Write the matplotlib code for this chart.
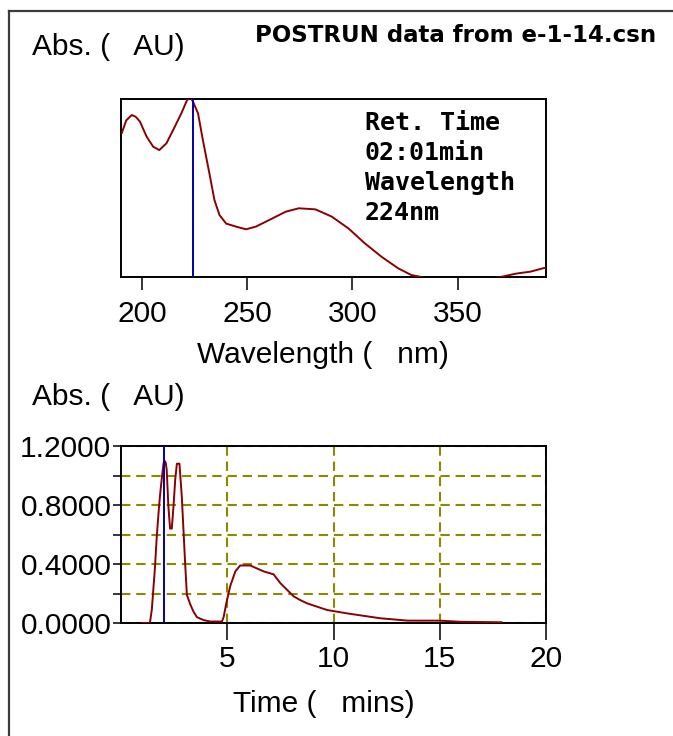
import matplotlib
matplotlib.use("Agg")
import matplotlib.pyplot as plt
from matplotlib.lines import Line2D
from matplotlib.ticker import FixedLocator, FormatStrFormatter

# ---------------- data ----------------
spec_wavelength = [190.4, 192.5, 195.1, 197.0, 199.0, 202.2, 205.3, 208.2, 211.6, 214.8,
                   218.7, 221.4, 223.0, 224.2, 226.6, 228.9, 232.0, 234.4, 236.8, 240.0,
                   244.7, 249.4, 254.1, 260.4, 268.3, 274.5, 282.4, 290.2, 298.1, 305.9,
                   313.8, 321.7, 328.0, 332.7, 340.0, 350.0, 360.0, 370.4, 378.3, 384.6,
                   390.6, 392.0]
spec_abs = [0.81, 0.88, 0.91, 0.90, 0.873, 0.788, 0.732, 0.713, 0.751, 0.826,
            0.92, 0.994, 1.01, 0.985, 0.92, 0.77, 0.583, 0.433, 0.348, 0.30,
            0.283, 0.268, 0.283, 0.32, 0.367, 0.386, 0.38, 0.339, 0.273, 0.189,
            0.114, 0.049, 0.011, 0.0, -0.02, -0.03, -0.02, 0.0, 0.02, 0.03,
            0.049, 0.053]

chrom_time = [1.0, 1.36, 1.45, 1.60, 1.68, 1.79, 1.86, 1.92, 2.00, 2.04,
              2.10, 2.15, 2.23, 2.31, 2.39, 2.47, 2.55, 2.63, 2.75, 2.86,
              2.94, 3.02, 3.10, 3.25, 3.40, 3.57, 3.88, 4.20, 4.75, 4.83,
              4.95, 5.14, 5.38, 5.61, 6.08, 6.71, 7.18, 7.50, 8.13, 8.44,
              8.76, 9.70, 10.65, 12.2, 13.5, 15.0, 16.0, 17.9]
chrom_abs = [0.0, 0.0, 0.09, 0.38, 0.58, 0.79, 0.90, 0.98, 1.08, 1.10,
             1.09, 1.04, 0.79, 0.64, 0.64, 0.79, 0.97, 1.08, 1.08, 0.86,
             0.63, 0.40, 0.19, 0.13, 0.08, 0.04, 0.02, 0.01, 0.01, 0.04,
             0.13, 0.25, 0.35, 0.39, 0.39, 0.35, 0.33, 0.27, 0.18, 0.155,
             0.133, 0.088, 0.065, 0.032, 0.016, 0.016, 0.008, 0.005]

spec_xticks = [200, 250, 300, 350]
chrom_xticks = [5, 10, 15, 20]
chrom_yticks_major = [0.0, 0.4, 0.8, 1.2]
chrom_yticks_minor = [0.2, 0.6, 1.0]
ret_time = 2.017
sel_wavelength = 224

title_text = "POSTRUN data from e-1-14.csn"
info_lines = ["Ret. Time", "02:01min", "Wavelength", "224nm"]

# ---------------- figure ----------------
W, H = 673, 736
plt.rcParams['font.family'] = ['Liberation Sans', 'DejaVu Sans']
fig = plt.figure(figsize=(W / 100, H / 100), dpi=100)
fig.patch.set_facecolor('white')

def fx(x):
    return x / W

def fy(y):
    return 1 - y / H

def ax_rect(l, t, r, b):
    return [fx(l), fy(b), (r - l) / W, (b - t) / H]

curve_color = '#8b0000'
blue = '#0000a8'
olive = '#8a8a00'
tick_fs = 21.5
grid_ls = (0, (4.5, 2.8))

# figure frame (left and top edges)
fig.add_artist(Line2D([fx(9), fx(9)], [fy(11), 0], color='#3c3c3c', lw=1.6))
fig.add_artist(Line2D([fx(9), 1], [fy(11), fy(11)], color='#3c3c3c', lw=1.6))

# ---------- spectrum ----------
ax1 = fig.add_axes(ax_rect(121, 99, 546, 277))
ax1.plot(spec_wavelength, spec_abs, color=curve_color, lw=1.4, zorder=3)
ax1.axvline(sel_wavelength, color=blue, lw=1.4, zorder=4)
ax1.set_xlim(190, 392)
ax1.set_ylim(0, 1.0)
ax1.set_yticks([])
ax1.xaxis.set_major_locator(FixedLocator(spec_xticks))
ax1.tick_params(axis='x', direction='out', length=9.5, width=1.1, pad=7,
                labelsize=tick_fs)
for s in ax1.spines.values():
    s.set_linewidth(1.4)
    s.set_color('black')

for i, line in enumerate(info_lines):
    fig.text(fx(365), fy(130 + 30 * i), line, family='DejaVu Sans Mono',
             weight='bold', fontsize=18, va='baseline', ha='left')

# ---------- chromatogram ----------
ax2 = fig.add_axes(ax_rect(121, 446, 546, 623))
ax2.plot(chrom_time, chrom_abs, color=curve_color, lw=1.4, zorder=3)
ax2.axvline(ret_time, color=blue, lw=1.4, zorder=4)
ax2.set_xlim(0, 20)
ax2.set_ylim(0, 1.2)
ax2.xaxis.set_major_locator(FixedLocator(chrom_xticks))
ax2.yaxis.set_major_locator(FixedLocator(chrom_yticks_major))
ax2.yaxis.set_minor_locator(FixedLocator(chrom_yticks_minor))
ax2.yaxis.set_major_formatter(FormatStrFormatter('%.4f'))
ax2.tick_params(axis='x', direction='out', length=12, width=1.1, pad=4,
                labelsize=tick_fs)
ax2.tick_params(axis='y', which='both', direction='out', length=6, width=1.1,
                pad=1, labelsize=tick_fs)
ax2.grid(True, which='both', axis='y', color=olive, ls=grid_ls, lw=1.5)
ax2.grid(True, which='major', axis='x', color=olive, ls=grid_ls, lw=1.5)
for s in ax2.spines.values():
    s.set_linewidth(1.4)
    s.set_color('black')

# ---------- texts ----------
fig.text(fx(32), fy(55), "Abs. (   AU)", fontsize=tick_fs, va='baseline', ha='left')
fig.text(fx(255), fy(42), title_text, family='DejaVu Sans', weight='bold',
         fontsize=16.5, va='baseline', ha='left')
fig.text(fx(197), fy(363), "Wavelength (   nm)", fontsize=tick_fs,
         va='baseline', ha='left')
fig.text(fx(32), fy(405), "Abs. (   AU)", fontsize=tick_fs, va='baseline', ha='left')
fig.text(fx(233), fy(712), "Time (   mins)", fontsize=tick_fs,
         va='baseline', ha='left')

fig.savefig('out.png', dpi=100, facecolor='white')
